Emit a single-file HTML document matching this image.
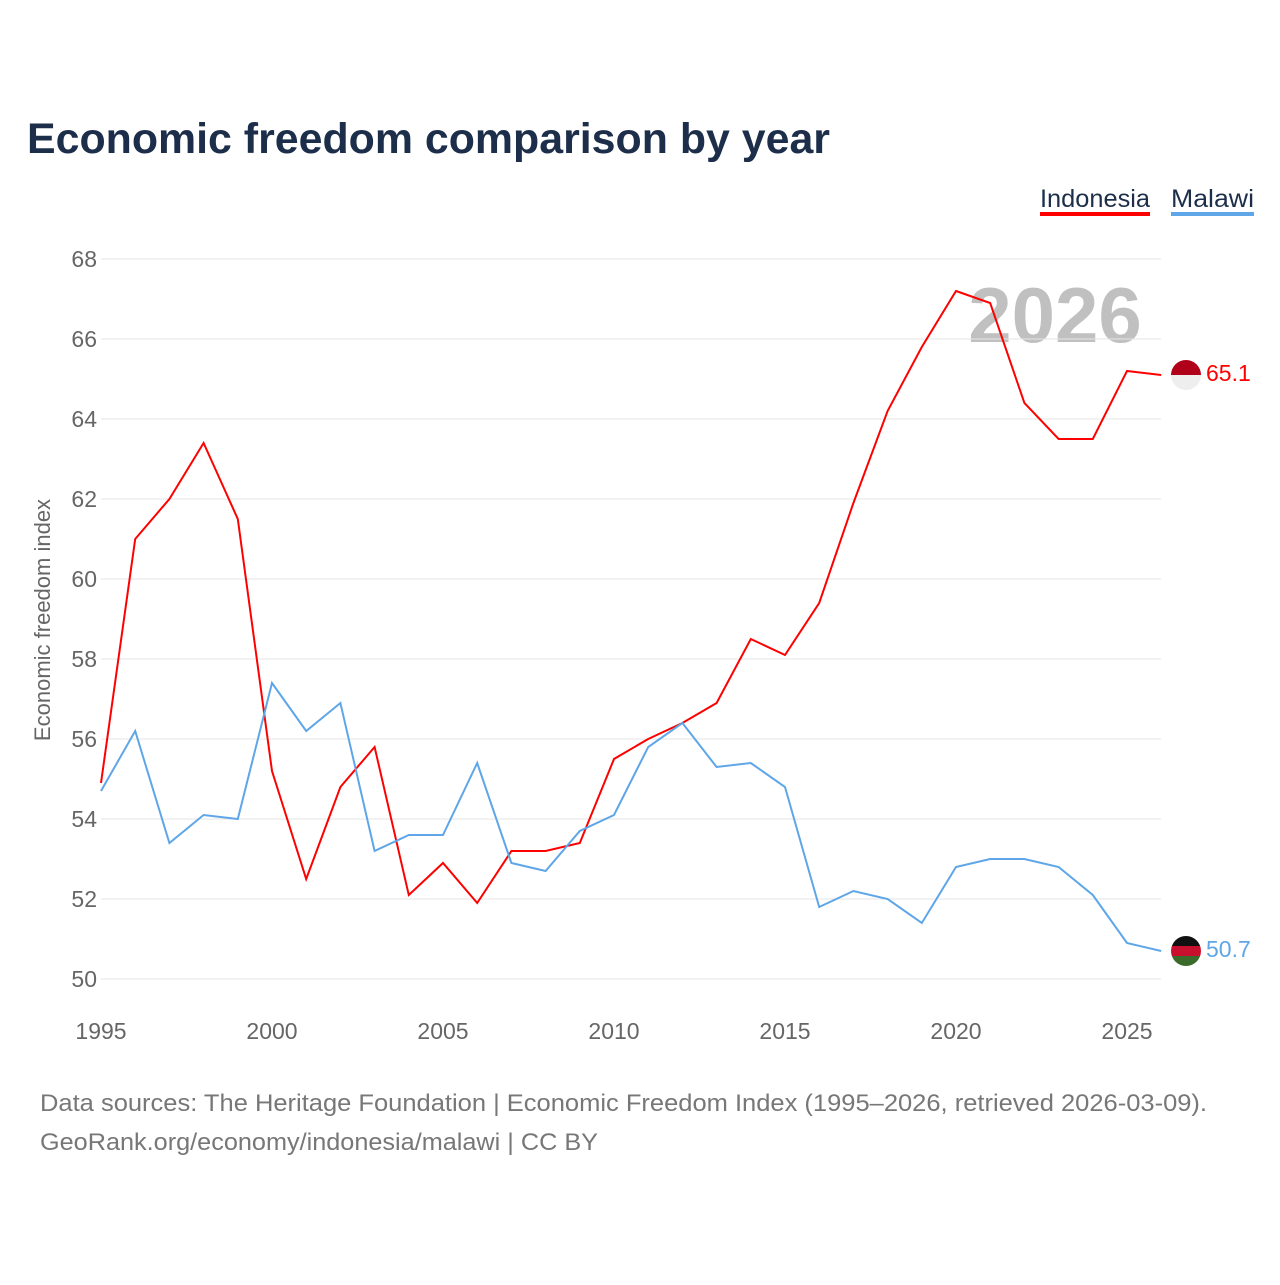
<!DOCTYPE html>
<html><head><meta charset="utf-8"><style>
body{margin:0;background:#fff;font-family:"Liberation Sans",sans-serif}
</style></head><body>
<svg id="c" width="1280" height="1280" viewBox="0 0 1280 1280">
<text x="27" y="153" font-size="43" font-weight="bold" fill="#1c2e4a" textLength="803" lengthAdjust="spacingAndGlyphs">Economic freedom comparison by year</text>
<g>
<text x="1040" y="207" font-size="25" fill="#1c2e4a" textLength="110" lengthAdjust="spacingAndGlyphs">Indonesia</text>
<rect x="1040" y="212" width="110" height="4" fill="#ff0000"/>
<text x="1171" y="207" font-size="25" fill="#1c2e4a" textLength="83" lengthAdjust="spacingAndGlyphs">Malawi</text>
<rect x="1171" y="212" width="83" height="4" fill="#5ea6e8"/>
</g>
<text x="1055" y="342" font-size="78" font-weight="bold" fill="#c0c0c0" text-anchor="middle">2026</text>
<g id="grid"></g><g id="lines"></g>
<text transform="translate(50,620) rotate(-90)" font-size="22" fill="#666" text-anchor="middle">Economic freedom index</text>
<text x="40" y="1111" font-size="24" fill="#777" textLength="1167" lengthAdjust="spacingAndGlyphs">Data sources: The Heritage Foundation | Economic Freedom Index (1995–2026, retrieved 2026-03-09).</text>
<text x="40" y="1150" font-size="24" fill="#777" textLength="558" lengthAdjust="spacingAndGlyphs">GeoRank.org/economy/indonesia/malawi | CC BY</text>
</svg>
<script>
const years=[1995,1996,1997,1998,1999,2000,2001,2002,2003,2004,2005,2006,2007,2008,2009,2010,2011,2012,2013,2014,2015,2016,2017,2018,2019,2020,2021,2022,2023,2024,2025,2026];
const indonesia=[54.9,61.0,62.0,63.4,61.5,55.2,52.5,54.8,55.8,52.1,52.9,51.9,53.2,53.2,53.4,55.5,56.0,56.4,56.9,58.5,58.1,59.4,61.9,64.2,65.8,67.2,66.9,64.4,63.5,63.5,65.2,65.1];
const malawi=[54.7,56.2,53.4,54.1,54.0,57.4,56.2,56.9,53.2,53.6,53.6,55.4,52.9,52.7,53.7,54.1,55.8,56.4,55.3,55.4,54.8,51.8,52.2,52.0,51.4,52.8,53.0,53.0,52.8,52.1,50.9,50.7];
const yTicks=[50,52,54,56,58,60,62,64,66,68];
const xTicks=[1995,2000,2005,2010,2015,2020,2025];
const NS="http://www.w3.org/2000/svg";
const xs=y=>101+(y-1995)*34.2;
const ys=v=>979-(v-50)*40;
function mk(t,a,p){const e=document.createElementNS(NS,t);for(const k in a)e.setAttribute(k,a[k]);p.appendChild(e);return e;}
const g=document.getElementById('grid'),L=document.getElementById('lines');
yTicks.forEach(v=>{
const l=mk('line',{x1:101,x2:1161,y1:ys(v),y2:ys(v),stroke:'#e6e6e6','stroke-width':1},g);


const t=mk('text',{x:97,y:ys(v)+8,'font-size':23,fill:'#666','text-anchor':'end'},g);t.textContent=v;


});
xTicks.forEach(v=>{
const t=mk('text',{x:xs(v),y:1039,'font-size':23,fill:'#666','text-anchor':'middle'},g);t.textContent=v;


});
function series(vals,col,name,flag){
const p=mk('polyline',{points:vals.map((v,i)=>xs(years[i])+','+ys(v)).join(' '),fill:'none',stroke:col,'stroke-width':2},L);


const lv=vals[vals.length-1],cx=1186,cy=ys(lv);
const fg=mk('g',{},L);


mk('clipPath',{id:'cp'+name},fg).appendChild(document.createElementNS(NS,'circle')).setAttribute('r',15);
const cp=fg.querySelector('circle');cp.setAttribute('cx',cx);cp.setAttribute('cy',cy);
flag.forEach((c,i)=>mk('rect',{x:cx-15,y:cy-15+i*30/flag.length,width:30,height:30/flag.length+0.5,fill:c,'clip-path':'url(#cp'+name+')'},fg));
const t=mk('text',{x:1206,y:cy+6,'font-size':23,fill:col},L);t.textContent=lv.toFixed(1);


}
series(indonesia,'#ff0000','indonesia',['#b0001a','#eeeeee']);
series(malawi,'#5ea6e8','malawi',['#111111','#c8102e','#3a6b2a']);
</script>
</body></html>
